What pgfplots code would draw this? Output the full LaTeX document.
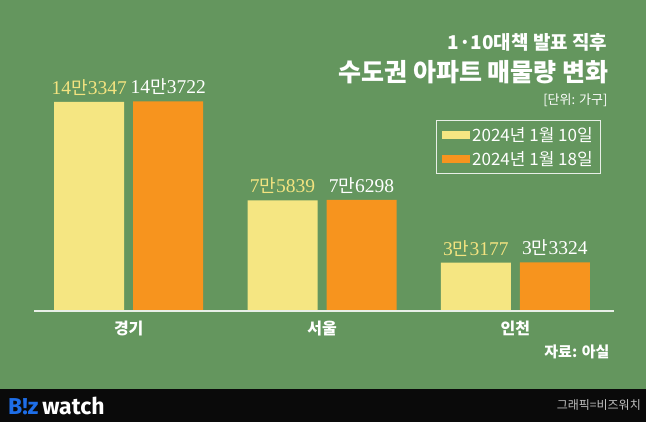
\documentclass[border=0pt]{standalone}
\usepackage{pgfplots}
\pgfplotsset{compat=1.18}
\usepackage{fontspec}
\setmainfont{Noto Sans CJK KR}
\newfontfamily\ser{Liberation Serif}
\newfontfamily\logo{Fira Sans}
\definecolor{bg}{RGB}{100,150,94}
\definecolor{yel}{RGB}{245,230,130}
\definecolor{ora}{RGB}{247,148,30}
\definecolor{lbl}{RGB}{243,227,128}
\definecolor{blu}{RGB}{30,110,232}
\newcommand{\val}[2]{{\ser #1}{\fontsize{18}{18}\selectfont 만}{\ser #2}}
\begin{document}
\begin{tikzpicture}[x=1pt,y=1pt]
\useasboundingbox (0,0) rectangle (646,422);
\fill[bg] (0,0) rectangle (646,422);
\fill[black!96] (0,0) rectangle (646,33);
\begin{axis}[
  at={(34pt,111pt)}, anchor=south west,
  scale only axis, width=580pt, height=220pt,
  ymin=0, ymax=150892, xmin=-0.49, xmax=2.51,
  ybar, bar width=70pt,
  axis line style={draw=none},
  ytick=\empty,
  xtick={0,1,2}, xticklabels={경기,서울,인천},
  major tick length=0pt,
  xticklabel style={font=\fontsize{16}{16}\selectfont\bfseries, text=white, yshift=-6pt},
  clip=false,
  legend style={at={(0.978,0.868)}, anchor=north east, draw=white!85!bg, line width=1pt,
    fill=none, font=\fontsize{17}{17}\selectfont, text=white, inner xsep=6pt, inner ysep=5pt,
    row sep=4pt},
  legend cell align=left,
]
\addplot[fill=yel, draw=none, bar shift=-39.5pt,
  nodes near coords, point meta=explicit symbolic,
  every node near coord/.append style={text=lbl, font=\fontsize{19.5}{19.5}\selectfont, yshift=3pt},
  legend image code/.code={\fill[yel] (0pt,-4pt) rectangle (28pt,4pt);}]
  coordinates {(0,143347)[\val{14}{3347}] (1,75839)[\val{7}{5839}] (2,33177)[\val{3}{3177}]};
\addlegendentry{2024년 1월 10일}
\addplot[fill=ora, draw=none, bar shift=39.5pt,
  nodes near coords, point meta=explicit symbolic,
  every node near coord/.append style={text=white, font=\fontsize{19.5}{19.5}\selectfont, yshift=3pt},
  legend image code/.code={\fill[ora] (0pt,-4pt) rectangle (28pt,4pt);}]
  coordinates {(0,143722)[\val{14}{3722}] (1,76298)[\val{7}{6298}] (2,33324)[\val{3}{3324}]};
\addlegendentry{2024년 1월 18일}
\draw[white!85!bg, line width=1.2pt] (rel axis cs:0,0) -- (rel axis cs:1,0);
\end{axis}
\node[anchor=east, text=white, font=\fontsize{19}{19}\selectfont\bfseries] at (611,380) {1·10대책 발표 직후};
\node[anchor=east, text=white, font=\fontsize{25}{25}\selectfont\bfseries] at (612,350) {수도권 아파트 매물량 변화};
\node[anchor=east, text=white, font=\fontsize{13}{13}\selectfont] at (611,322) {[단위: 가구]};
\node[anchor=east, text=white, font=\fontsize{15}{15}\selectfont\bfseries] at (613,70) {자료: 아실};
\node[anchor=west, font=\logo\bfseries\fontsize{23}{23}\selectfont, inner sep=0pt] at (8,16.5) {\textcolor{blu}{B!z}\,\textcolor{white}{watch}};
\node[anchor=east, text=gray!50!white, font=\fontsize{12}{12}\selectfont, inner sep=0pt] at (641,16.5) {그래픽=비즈워치};
\end{tikzpicture}
\end{document}
